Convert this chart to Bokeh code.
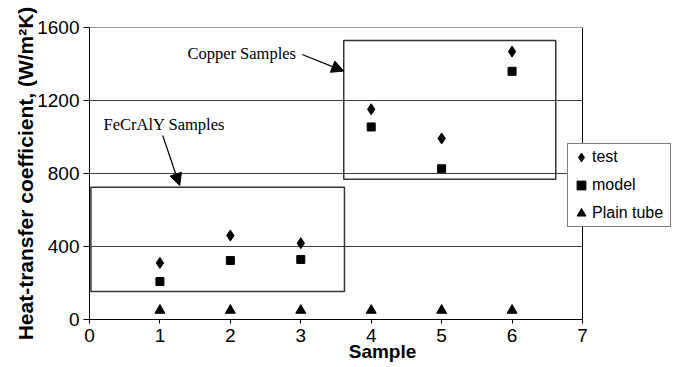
from bokeh.plotting import figure
from bokeh.models import (Range1d, FixedTicker, Legend, LegendItem, Arrow, NormalHead,
                          ColumnDataSource, Label, Span)
from bokeh.embed import file_html
from bokeh.resources import INLINE

# ---- data ----
samples = [1, 2, 3, 4, 5, 6]
test = [310, 460, 418, 1152, 992, 1468]
model = [208, 323, 329, 1055, 826, 1360]
plain_tube = [50, 50, 50, 50, 50, 50]

x_ticks = [0, 1, 2, 3, 4, 5, 6, 7]
y_ticks = [0, 400, 800, 1200, 1600]
x_max = 7
y_max = 1600

# annotation regions (data units)
fecraly_box = dict(left=[0.02], right=[3.62], bottom=[153], top=[725])
copper_box = dict(left=[3.61], right=[6.62], bottom=[769], top=[1529])
fecraly_label = ("FeCrAlY Samples", 0.2, 1068)
copper_label = ("Copper Samples", 1.39, 1459)
fecraly_arrow = (1.04, 1008, 1.28, 734)
copper_arrow = (3.02, 1452, 3.61, 1361)

SANS = "Liberation Sans"
SERIF = "Liberation Serif"

# frame spans to the right edge so the legend can straddle the plot border at x = 7
FRAME_L, FRAME_R, FRAME_T, FRAME_B = 89, 675, 27, 319
PLOT_R = 582
x_end = x_max * (FRAME_R - FRAME_L) / (PLOT_R - FRAME_L)

p = figure(width=675, height=367, output_backend="svg", toolbar_location=None,
           x_range=Range1d(0, x_end), y_range=Range1d(0, y_max),
           min_border_left=FRAME_L, min_border_top=FRAME_T, min_border_right=0,
           min_border_bottom=367 - FRAME_B)
p.background_fill_color = "white"
p.border_fill_color = "white"
p.outline_line_color = None

# axes
p.xaxis.ticker = FixedTicker(ticks=x_ticks)
p.yaxis.ticker = FixedTicker(ticks=y_ticks)
p.xaxis.bounds = (0, x_max)
for ax in (p.xaxis[0], p.yaxis[0]):
    ax.major_label_text_font = SANS
    ax.major_label_text_font_size = "19px"
    ax.major_label_text_color = "black"
    ax.axis_line_color = "black"
    ax.axis_line_width = 1
    ax.major_tick_line_color = "black"
    ax.minor_tick_line_color = None
    ax.major_tick_in = 0
    ax.axis_label_text_font = SANS
    ax.axis_label_text_font_style = "bold"
    ax.axis_label_text_color = "black"
p.xaxis.major_tick_out = 4
p.yaxis.major_tick_out = 6
p.xaxis.major_label_standoff = 5
p.yaxis.major_label_standoff = 4
p.xaxis.axis_label = "Sample"
p.xaxis.axis_label_text_font_size = "19px"
p.xaxis.axis_label_standoff = -4
p.yaxis.axis_label = "Heat-transfer coefficient, (W/m²K)"
p.yaxis.axis_label_text_font_size = "21px"
p.yaxis.axis_label_standoff = -3

# horizontal grid lines limited to the plot area (0..7)
p.xgrid.grid_line_color = None
p.ygrid.grid_line_color = None
grid_y = [t for t in y_ticks if t > 0]
p.segment(x0=[0] * len(grid_y), x1=[x_max] * len(grid_y), y0=grid_y, y1=grid_y,
          line_color="#404040", line_width=1)
# right border of the plot area
p.add_layout(Span(location=x_max, dimension="height", line_color="black", line_width=1))

# annotation boxes
for box in (fecraly_box, copper_box):
    p.quad(source=ColumnDataSource(box), left="left", right="right", bottom="bottom", top="top",
           fill_color=None, line_color="#333333", line_width=1.5)

# data markers
src = ColumnDataSource(dict(x=samples, test=test, model=model, plain=plain_tube))
r_test = p.scatter("x", "test", source=src, marker="diamond", size=11,
                   fill_color="black", line_color="black")
r_model = p.scatter("x", "model", source=src, marker="square", size=8,
                    fill_color="black", line_color="black")
r_plain = p.scatter("x", "plain", source=src, marker="triangle", size=10,
                    fill_color="black", line_color="black")

# text labels and arrows
for txt, lx, ly in (fecraly_label, copper_label):
    p.add_layout(Label(x=lx, y=ly, text=txt, text_font=SERIF, text_font_size="16.5px",
                       text_color="black", text_baseline="middle", text_align="left"))
for (x0, y0, x1, y1) in (fecraly_arrow, copper_arrow):
    p.add_layout(Arrow(x_start=x0, y_start=y0, x_end=x1, y_end=y1, line_color="black",
                       line_width=1.2,
                       end=NormalHead(size=12, fill_color="black", line_color="black")))

legend = Legend(items=[LegendItem(label="test", renderers=[r_test]),
                       LegendItem(label="model", renderers=[r_model]),
                       LegendItem(label="Plain tube", renderers=[r_plain])],
                location=(478, 92), orientation="vertical",
                label_text_font=SANS, label_text_font_size="16px", label_text_color="black",
                border_line_color="black", border_line_width=1, background_fill_color="white",
                background_fill_alpha=1.0, padding=2, spacing=6, margin=0,
                glyph_width=22, glyph_height=22, label_height=22, label_width=76,
                label_standoff=0)
p.add_layout(legend, "center")

open("out.html", "w").write(file_html(p, INLINE))
